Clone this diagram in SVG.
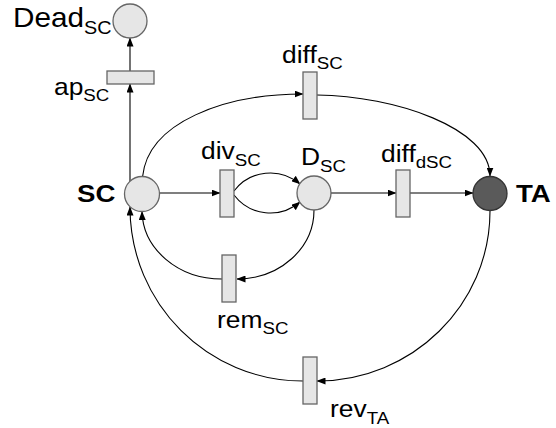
<svg xmlns="http://www.w3.org/2000/svg" width="556" height="428" viewBox="0 0 556 428">
<defs>
<marker id="arr" markerUnits="userSpaceOnUse" markerWidth="9" markerHeight="7" refX="8.5" refY="3.5" orient="auto">
<path d="M0,0 L9,3.5 L0,7 z" fill="#000"/>
</marker>
<style>
.place{fill:#e6e6e6;stroke:#666;stroke-width:1.3}
.ta{fill:#5a5a5a;stroke:#333;stroke-width:1.3}
.tr{fill:#e6e6e6;stroke:#666;stroke-width:1.3}
.arc{fill:none;stroke:#000;stroke-width:1.1;marker-end:url(#arr)}
.lbl{font-family:"Liberation Sans",Arial,sans-serif;font-size:24px;fill:#000}
.big{font-size:27px}
.bold{font-weight:bold}
.sub{font-size:17px}
.bsub{font-size:18px}
</style>
</defs>
<rect width="556" height="428" fill="#fff"/>
<g id="connectors">
<path class="arc" d="M130,182 L130,84"/>
<path class="arc" d="M130,71 L130,38"/>
<path class="arc" d="M142.5,177 C148,122 225,94 303,94"/>
<path class="arc" d="M317,95 C395,96 490,128 490,176"/>
<path class="arc" d="M159.5,193 L220,193"/>
<path class="arc" d="M234,191 C250,170 280,167 300,184"/>
<path class="arc" d="M234,195 C250,216 280,219 300,202"/>
<path class="arc" d="M331,193 L396,193"/>
<path class="arc" d="M410,193 L473,193"/>
<path class="arc" d="M314,210 C314,248 280,279 237,279"/>
<path class="arc" d="M222,279 C178,279 143,249 142,211.5"/>
<path class="arc" d="M490,211 C490,305 412,381 317,381"/>
<path class="arc" d="M303,381 C208,381 130,304 130,207"/>
</g>
<g id="Dead_SC">
<circle class="place" cx="130" cy="21" r="17"/>
<text class="lbl big" transform="translate(13,27) scale(1.1,1)">Dead<tspan class="bsub" dy="6.5">SC</tspan></text>
</g>
<g id="ap_SC">
<rect class="tr" x="107" y="71" width="47" height="13"/>
<text class="lbl" transform="translate(54,95) scale(1.1,1)">ap<tspan class="sub" dy="6">SC</tspan></text>
</g>
<g id="SC">
<circle class="place" cx="142" cy="194" r="17.5"/>
<text class="lbl bold" transform="translate(77,202) scale(1.15,1)">SC</text>
</g>
<g id="diff_SC">
<rect class="tr" x="303" y="72" width="14" height="47"/>
<text class="lbl" transform="translate(282,63) scale(1.1,1)">diff<tspan class="sub" dy="6">SC</tspan></text>
</g>
<g id="div_SC">
<rect class="tr" x="220" y="170" width="14" height="47"/>
<text class="lbl" transform="translate(201,159) scale(1.1,1)">div<tspan class="sub" dy="7">SC</tspan></text>
</g>
<g id="D_SC">
<circle class="place" cx="314" cy="193" r="17"/>
<text class="lbl" transform="translate(301,165) scale(1.1,1)">D<tspan class="sub" dy="7">SC</tspan></text>
</g>
<g id="diff_dSC">
<rect class="tr" x="396" y="170" width="14" height="47"/>
<text class="lbl" transform="translate(381,162) scale(1.1,1)">diff<tspan class="sub" dy="6">dSC</tspan></text>
</g>
<g id="TA">
<circle class="ta" cx="490" cy="193.5" r="17"/>
<text class="lbl bold" transform="translate(516,202) scale(1.15,1)">TA</text>
</g>
<g id="rem_SC">
<rect class="tr" x="222" y="255" width="14" height="47"/>
<text class="lbl" transform="translate(217,328) scale(1.1,1)">rem<tspan class="sub" dy="6">SC</tspan></text>
</g>
<g id="rev_TA">
<rect class="tr" x="303" y="357" width="14" height="47"/>
<text class="lbl" transform="translate(330,417) scale(1.1,1)">rev<tspan class="sub" dy="7">TA</tspan></text>
</g>
</svg>
